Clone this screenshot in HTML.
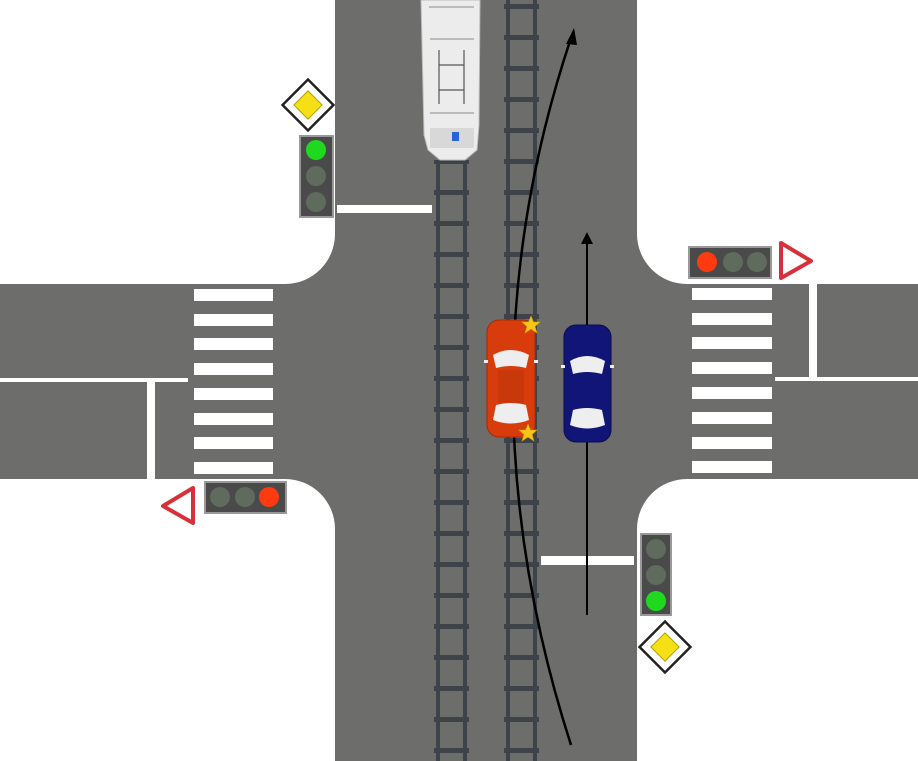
<!DOCTYPE html>
<html><head><meta charset="utf-8"><style>html,body{margin:0;padding:0;background:#fff}svg{display:block}</style></head>
<body>
<svg width="918" height="761" viewBox="0 0 918 761" xmlns="http://www.w3.org/2000/svg">
<defs>
<pattern id="ties" x="0" y="4" width="40" height="31" patternUnits="userSpaceOnUse"><rect x="0" y="0" width="40" height="5" fill="#3e434a"/></pattern>
<g id="star"><polygon points="0,-9 2.5,-3 9,-3 4,1.5 6,8 0,4 -6,8 -4,1.5 -9,-3 -2.5,-3" fill="#f5c518" stroke="#d8a000" stroke-width="0.6"/></g>
</defs>
<rect width="918" height="761" fill="#fff"/>
<!-- roads -->
<g fill="#6d6d6c">
<rect x="335" y="0" width="302" height="761"/>
<rect x="0" y="284" width="918" height="195"/>
</g>
<!-- rounded corners (white fillets) -->
<g fill="#fff">
<path d="M285,284 A50,50 0 0 0 335,234 L335,284 Z" fill="#6d6d6c"/>
<path d="M637,234 A50,50 0 0 0 687,284 L637,284 Z" fill="#6d6d6c"/>
<path d="M285,479 A50,50 0 0 1 335,529 L335,479 Z" fill="#6d6d6c"/>
<path d="M687,479 A50,50 0 0 0 637,529 L637,479 Z" fill="#6d6d6c"/>
</g>
<!-- left crosswalk -->
<g fill="#fff">
<rect x="194" y="289" width="79" height="12"/><rect x="194" y="314" width="79" height="12"/><rect x="194" y="338" width="79" height="12"/><rect x="194" y="363" width="79" height="12"/><rect x="194" y="388" width="79" height="12"/><rect x="194" y="413" width="79" height="12"/><rect x="194" y="437" width="79" height="12"/><rect x="194" y="462" width="79" height="12"/>
<rect x="692" y="288" width="80" height="12"/><rect x="692" y="313" width="80" height="12"/><rect x="692" y="337" width="80" height="12"/><rect x="692" y="362" width="80" height="12"/><rect x="692" y="387" width="80" height="12"/><rect x="692" y="412" width="80" height="12"/><rect x="692" y="437" width="80" height="12"/><rect x="692" y="461" width="80" height="12"/>
<!-- lines -->
<rect x="0" y="378" width="188" height="4"/>
<rect x="147" y="380" width="8" height="99"/>
<rect x="775" y="377" width="143" height="4"/>
<rect x="809" y="283" width="8" height="96"/>
<rect x="337" y="205" width="95" height="8"/>
<rect x="541" y="556" width="93" height="9"/>
</g>
<!-- tracks -->
<rect x="434" y="160" width="35" height="601" fill="url(#ties)"/>
<rect x="436" y="160" width="4" height="601" fill="#3e434a"/>
<rect x="463" y="160" width="4" height="601" fill="#3e434a"/>
<rect x="504" y="0" width="35" height="761" fill="url(#ties)"/>
<rect x="506" y="0" width="4" height="761" fill="#3e434a"/>
<rect x="533" y="0" width="4" height="761" fill="#3e434a"/>
<!-- tram -->
<path d="M421,0 L480,0 L479,125 L477,150 L465,160 L440,160 L428,150 L424,135 Z" fill="#ececec" stroke="#bbb"/>
<rect x="430" y="128" width="44" height="20" fill="#d8d8d8"/>
<rect x="452" y="132" width="7" height="9" fill="#2a62d8"/>
<g stroke="#bbb" stroke-width="2"><line x1="429" y1="7" x2="474" y2="7"/><line x1="430" y1="39" x2="474" y2="39"/><line x1="430" y1="113" x2="474" y2="113"/></g>
<g stroke="#555" stroke-width="1.2"><line x1="439" y1="50" x2="439" y2="104"/><line x1="464" y1="50" x2="464" y2="104"/><line x1="439" y1="65" x2="464" y2="65"/><line x1="439" y1="90" x2="464" y2="90"/></g>
<!-- arrows -->
<path d="M571,745 Q455,385 571,38" fill="none" stroke="#000" stroke-width="2.5"/>
<polygon points="574,28 566,44 577,45" fill="#000"/>
<line x1="587" y1="615" x2="587" y2="240" stroke="#000" stroke-width="2"/>
<polygon points="587,232 581,244 593,244" fill="#000"/>
<!-- red car -->
<rect x="487" y="320" width="48" height="117" rx="12" fill="#d93c0c" stroke="#a52a05"/>
<path d="M493,355 Q511,345 529,355 L526,368 Q511,364 496,368 Z" fill="#eee"/>
<path d="M496,405 Q511,401 526,405 L529,420 Q511,427 493,420 Z" fill="#eee"/>
<rect x="498" y="370" width="26" height="33" fill="#c9380a"/>
<rect x="484" y="360" width="4" height="3" fill="#eee"/><rect x="534" y="360" width="4" height="3" fill="#eee"/>
<use href="#star" x="531" y="325"/><use href="#star" x="528" y="433"/>
<!-- blue car -->
<rect x="564" y="325" width="47" height="117" rx="12" fill="#121578" stroke="#0a0c50"/>
<path d="M570,361 Q587,351 605,361 L602,374 Q587,370 573,374 Z" fill="#eee"/>
<path d="M573,410 Q587,406 602,410 L605,425 Q587,432 570,425 Z" fill="#eee"/>
<rect x="561" y="365" width="4" height="3" fill="#eee"/><rect x="610" y="365" width="4" height="3" fill="#eee"/>
<!-- top-left signs -->
<rect x="290" y="87" width="36" height="36" transform="rotate(45 308 105)" fill="#fff" stroke="#222" stroke-width="2.5"/>
<rect x="298" y="95" width="20" height="20" transform="rotate(45 308 105)" fill="#f5e015" stroke="#b8a000"/>
<rect x="300" y="136" width="33" height="81" fill="#4a4a4a" stroke="#999" stroke-width="2"/>
<circle cx="316" cy="150" r="10" fill="#1fd91f"/><circle cx="316" cy="176" r="10" fill="#5f6b5c"/><circle cx="316" cy="202" r="10" fill="#5f6b5c"/>
<!-- right signs -->
<rect x="689" y="247" width="82" height="31" fill="#4a4a4a" stroke="#999" stroke-width="2"/>
<circle cx="707" cy="262" r="10" fill="#ff3a10"/><circle cx="733" cy="262" r="10" fill="#5f6b5c"/><circle cx="757" cy="262" r="10" fill="#5f6b5c"/>
<polygon points="781,243 811,261 781,278" fill="#fff" stroke="#d8303a" stroke-width="4" stroke-linejoin="round"/>
<!-- left signs -->
<rect x="205" y="482" width="81" height="31" fill="#4a4a4a" stroke="#999" stroke-width="2"/>
<circle cx="220" cy="497" r="10" fill="#5f6b5c"/><circle cx="245" cy="497" r="10" fill="#5f6b5c"/><circle cx="269" cy="497" r="10" fill="#ff3a10"/>
<polygon points="193,488 163,506 193,523" fill="#fff" stroke="#d8303a" stroke-width="4" stroke-linejoin="round"/>
<!-- bottom-right signs -->
<rect x="641" y="534" width="30" height="81" fill="#4a4a4a" stroke="#999" stroke-width="2"/>
<circle cx="656" cy="549" r="10" fill="#5f6b5c"/><circle cx="656" cy="575" r="10" fill="#5f6b5c"/><circle cx="656" cy="601" r="10" fill="#1fd91f"/>
<rect x="647" y="629" width="36" height="36" transform="rotate(45 665 647)" fill="#fff" stroke="#222" stroke-width="2.5"/>
<rect x="655" y="637" width="20" height="20" transform="rotate(45 665 647)" fill="#f5e015" stroke="#b8a000"/>
</svg>
</body></html>
